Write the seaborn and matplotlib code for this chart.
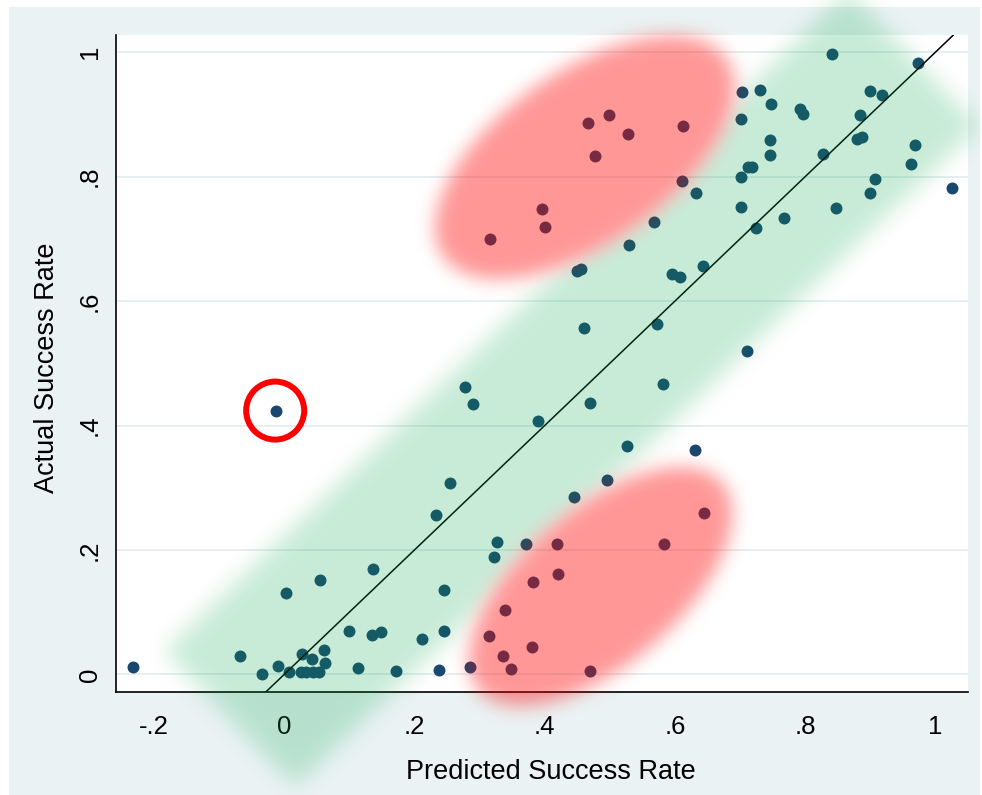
import numpy as np
import pandas as pd
import matplotlib
matplotlib.use("Agg")
import matplotlib.pyplot as plt
from matplotlib.patches import Rectangle
import seaborn as sns

# ---------------- data ----------------
predicted = [-0.233, -0.068, -0.034, 0.003, -0.010, 0.008, 0.027, 0.026, 0.033, 0.044,
             0.054, 0.042, 0.061, 0.063, 0.055, 0.100, 0.113, 0.136, 0.135, 0.148,
             0.172, 0.212, 0.245, 0.245, 0.238, 0.285, 0.314, 0.326, 0.322, 0.233,
             0.371, 0.419, 0.584, 0.421, 0.382, 0.339, 0.381, 0.336, 0.349, 0.469,
             0.645, 0.631, 0.449, 0.456, 0.595, 0.608, 0.643, 0.461, 0.573, 0.710,
             0.278, 0.290, 0.582, 0.470, 0.390, 0.526, 0.255, 0.496, 0.445, 0.467,
             0.499, 0.528, 0.613, 0.477, 0.611, 0.633, 0.396, 0.401, 0.316, 0.568,
             0.530, 0.841, 0.973, 0.703, 0.730, 0.747, 0.701, 0.792, 0.796, 0.899,
             0.918, 0.884, 0.746, 0.746, 0.880, 0.887, 0.827, 0.969, 0.962, 0.712,
             0.719, 0.701, 0.908, 0.899, 1.025, 0.701, 0.847, 0.767, 0.724, -0.012]
actual = [0.012, 0.030, 0.001, 0.131, 0.014, 0.004, 0.033, 0.004, 0.004, 0.004,
          0.004, 0.024, 0.039, 0.019, 0.151, 0.069, 0.010, 0.169, 0.064, 0.068,
          0.005, 0.056, 0.135, 0.069, 0.007, 0.012, 0.061, 0.212, 0.188, 0.256,
          0.210, 0.209, 0.209, 0.161, 0.148, 0.103, 0.044, 0.029, 0.009, 0.005,
          0.260, 0.361, 0.649, 0.651, 0.644, 0.638, 0.656, 0.556, 0.563, 0.519,
          0.462, 0.434, 0.466, 0.436, 0.407, 0.367, 0.308, 0.313, 0.285, 0.887,
          0.899, 0.868, 0.882, 0.834, 0.793, 0.774, 0.748, 0.719, 0.700, 0.727,
          0.690, 0.998, 0.983, 0.936, 0.940, 0.917, 0.892, 0.909, 0.900, 0.938,
          0.932, 0.899, 0.859, 0.835, 0.860, 0.864, 0.836, 0.851, 0.820, 0.816,
          0.816, 0.799, 0.797, 0.774, 0.782, 0.752, 0.750, 0.734, 0.717, 0.424]

x_ticks = [-0.2, 0.0, 0.2, 0.4, 0.6, 0.8, 1.0]
x_tick_labels = ["-.2", "0", ".2", ".4", ".6", ".8", "1"]
y_ticks = [0.0, 0.2, 0.4, 0.6, 0.8, 1.0]
y_tick_labels = ["0", ".2", ".4", ".6", ".8", "1"]
x_label = "Predicted Success Rate"
y_label = "Actual Success Rate"
highlight_point = (-0.014, 0.424)

# highlight regions (centres in data units)
band_start = (-0.083, -0.071)
upper_ellipse_center = (0.4615, 0.831)
lower_ellipse_center = (0.486, 0.141)

# ---------------- style ----------------
sns.set_style("white")
plt.rcParams["font.family"] = ["Liberation Sans", "DejaVu Sans"]

NAVY = "#1A476F"
PANEL = "#EAF2F3"

W, H = 982, 795
fig = plt.figure(figsize=(W / 100, H / 100), dpi=100)
fig.patch.set_facecolor("white")
fig.add_artist(Rectangle((9 / W, 0), (980 - 9) / W, (H - 7) / H,
                         transform=fig.transFigure, facecolor=PANEL,
                         edgecolor="none", zorder=-1))

ax = fig.add_axes([116 / W, (H - 692.3) / H, 852 / W, 657.3 / H])
ax.set_facecolor("white")

df = pd.DataFrame({"pred": predicted, "act": actual})
sns.scatterplot(data=df, x="pred", y="act", color=NAVY, s=74, linewidth=0,
                ax=ax, zorder=3)
ax.axline((0, 0), slope=1, color="black", lw=1.1, zorder=4)
ax.scatter([highlight_point[0]], [highlight_point[1]], s=1745, facecolors="none",
           edgecolors="#FF0000", linewidths=4.3, zorder=5)

ax.set_xlim(-0.2585, 1.0502)
ax.set_ylim(-0.0289, 1.0278)
ax.set_xticks(x_ticks, labels=x_tick_labels)
ax.set_yticks(y_ticks, labels=y_tick_labels)
ax.tick_params(axis="both", direction="out", length=7.2, width=1.2,
               color="black", labelsize=18.5, labelcolor="black")
ax.tick_params(axis="x", pad=9)
ax.tick_params(axis="y", pad=3)
for lbl in ax.get_yticklabels():
    lbl.set_rotation(90)
    lbl.set_va("center")

for side in ["top", "right"]:
    ax.spines[side].set_visible(False)
for side in ["left", "bottom"]:
    ax.spines[side].set_color("black")
    ax.spines[side].set_linewidth(1.2)

ax.set_axisbelow(True)
ax.yaxis.grid(True, color="#E4EEF0", lw=1.3)
ax.xaxis.grid(False)

ax.set_xlabel(x_label, fontsize=19.5, color="black")
ax.set_ylabel(y_label, fontsize=19.5, color="black")
ax.xaxis.set_label_coords(0.511, -0.102)
ax.yaxis.set_label_coords(-0.066, 0.494)

# ---------------- blurred highlight overlays ----------------
gx, gy = np.meshgrid(np.arange(W) + 0.5, np.arange(H) + 0.5)


def phi(z):
    return 0.5 * (1 + np.tanh(0.7978845608 * (z + 0.044715 * z ** 3)))


def to_px(pt):
    return ax.transData.transform(pt)


def soft_band(start, deg, length, width, sig):
    sx, sy = to_px(start)
    th = np.deg2rad(deg)
    dx, dy = gx - sx, gy - sy
    t = dx * np.cos(th) + dy * np.sin(th)
    v = -dx * np.sin(th) + dy * np.cos(th)
    return (phi((width / 2 - np.abs(v)) / sig) * phi(t / sig)
            * phi((length - t) / sig))


def soft_ellipse(center, a, b, deg, sig):
    cx, cy = to_px(center)
    th = np.deg2rad(deg)
    dx, dy = gx - cx, gy - cy
    u = dx * np.cos(th) + dy * np.sin(th)
    v = -dx * np.sin(th) + dy * np.cos(th)
    r = np.sqrt((u / a) ** 2 + (v / b) ** 2)
    gr = np.sqrt((u / a ** 2) ** 2 + (v / b ** 2) ** 2) / np.maximum(r, 1e-6)
    d = (1 - r) / np.maximum(gr, 1e-9)
    return phi(d / sig)


green = soft_band(band_start, 44, 950, 188, 11)
red = np.maximum(soft_ellipse(upper_ellipse_center, 172, 86, 35, 9),
                 soft_ellipse(lower_ellipse_center, 159, 78, 40.5, 9))

green_img = np.zeros((H, W, 4))
green_img[..., 0] = 0 / 255
green_img[..., 1] = 164 / 255
green_img[..., 2] = 73 / 255
green_img[..., 3] = 0.22 * green * (1 - red)

red_img = np.zeros((H, W, 4))
red_img[..., 0] = 1.0
red_img[..., 3] = 0.41 * red

ov = fig.add_axes([0, 0, 1, 1], zorder=10)
ov.imshow(green_img, origin="lower", extent=(0, W, 0, H),
          interpolation="nearest", aspect="auto")
ov.imshow(red_img, origin="lower", extent=(0, W, 0, H),
          interpolation="nearest", aspect="auto")
ov.set_xlim(0, W)
ov.set_ylim(0, H)
ov.axis("off")

fig.savefig("out.png", dpi=100)
